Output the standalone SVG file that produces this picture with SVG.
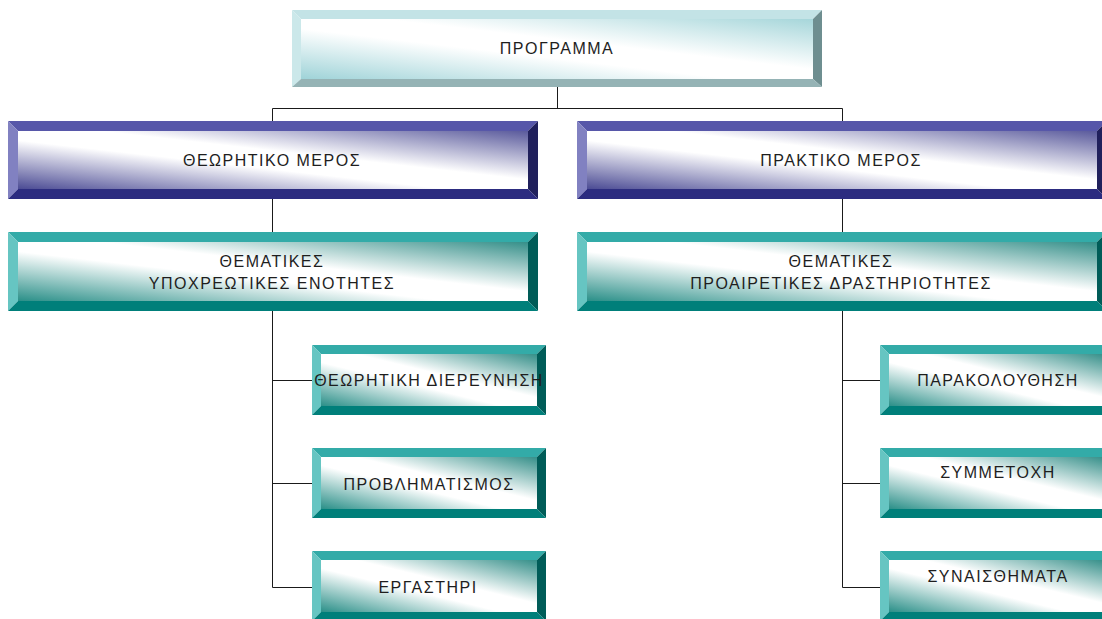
<svg xmlns="http://www.w3.org/2000/svg" width="1102" height="619" viewBox="0 0 1102 619">
<defs>
<linearGradient id="gTop" x1="0" y1="1" x2="1" y2="0">
<stop offset="0" stop-color="#9fd3d8"/><stop offset="0.42" stop-color="#ffffff"/><stop offset="0.58" stop-color="#ffffff"/><stop offset="1" stop-color="#a6d6da"/>
</linearGradient>
<linearGradient id="gPur" x1="0" y1="1" x2="1" y2="0">
<stop offset="0" stop-color="#4b4b94"/><stop offset="0.42" stop-color="#ffffff"/><stop offset="0.58" stop-color="#ffffff"/><stop offset="1" stop-color="#5a5a9c"/>
</linearGradient>
<linearGradient id="gTeal" x1="0" y1="1" x2="1" y2="0">
<stop offset="0" stop-color="#2a8f88"/><stop offset="0.42" stop-color="#ffffff"/><stop offset="0.58" stop-color="#ffffff"/><stop offset="1" stop-color="#358f89"/>
</linearGradient>
</defs>
<style>
.lbl{font-family:"Liberation Sans",Arial,sans-serif;font-size:16px;letter-spacing:1.5px;fill:#1e1e1e;text-anchor:middle}
.con{stroke:#1a1a1a;stroke-width:1;fill:none}
.top .t{fill:#c3e3e6}.top .l{fill:#cbe8ea}.top .r{fill:#6e8e90}.top .b{fill:#95b3b5}.top .i{fill:url(#gTop)}
.pur .t{fill:#5757a9}.pur .l{fill:#8181c1}.pur .r{fill:#20205c}.pur .b{fill:#2c2c80}.pur .i{fill:url(#gPur)}
.teal .t{fill:#33aba8}.teal .l{fill:#66c5c2}.teal .r{fill:#005c58}.teal .b{fill:#007f7a}.teal .i{fill:url(#gTeal)}
</style>
<g id="connectors" class="con">
<path d="M557.5 87V108.5M272.5 108.5H842.5M272.5 108.5V121M842.5 108.5V121"/>
<path d="M272.5 199V232M842.5 199V232"/>
<path d="M272.5 311V587.5M272.5 380.5H312M272.5 483.5H312M272.5 587.5H312"/>
<path d="M842.5 311V587.5M842.5 380.5H880M842.5 483.5H880M842.5 587.5H880"/>
</g>
<g id="programma" class="top">
<path class="t" d="M292 10H822L813 19H301Z"/>
<path class="l" d="M292 10L301 19V79L292 87Z"/>
<path class="r" d="M822 10V87L813 79V19Z"/>
<path class="b" d="M292 87L301 79H813L822 87Z"/>
<rect class="i" x="301" y="19" width="512" height="60"/>
<text class="lbl" x="557" y="54">ΠΡΟΓΡΑΜΜΑ</text>
</g>
<g id="theoretiko" class="pur">
<path class="t" d="M8 121H538L528 131H18Z"/>
<path class="l" d="M8 121L18 131V189L8 199Z"/>
<path class="r" d="M538 121V199L528 189V131Z"/>
<path class="b" d="M8 199L18 189H528L538 199Z"/>
<rect class="i" x="18" y="131" width="510" height="58"/>
<text class="lbl" x="272" y="166">ΘΕΩΡΗΤΙΚΟ ΜΕΡΟΣ</text>
</g>
<g id="praktiko" class="pur">
<path class="t" d="M577 121H1107L1097 131H587Z"/>
<path class="l" d="M577 121L587 131V189L577 199Z"/>
<path class="r" d="M1107 121V199L1097 189V131Z"/>
<path class="b" d="M577 199L587 189H1097L1107 199Z"/>
<rect class="i" x="587" y="131" width="510" height="58"/>
<text class="lbl" x="841" y="166">ΠΡΑΚΤΙΚΟ ΜΕΡΟΣ</text>
</g>
<g id="ypoxreotikes" class="teal">
<path class="t" d="M8 232H538L528 242H18Z"/>
<path class="l" d="M8 232L18 242V301L8 311Z"/>
<path class="r" d="M538 232V311L528 301V242Z"/>
<path class="b" d="M8 311L18 301H528L538 311Z"/>
<rect class="i" x="18" y="242" width="510" height="59"/>
<text class="lbl" x="272" y="267">ΘΕΜΑΤΙΚΕΣ</text>
<text class="lbl" x="272" y="289">ΥΠΟΧΡΕΩΤΙΚΕΣ ΕΝΟΤΗΤΕΣ</text>
</g>
<g id="proairetikes" class="teal">
<path class="t" d="M577 232H1107L1097 242H587Z"/>
<path class="l" d="M577 232L587 242V301L577 311Z"/>
<path class="r" d="M1107 232V311L1097 301V242Z"/>
<path class="b" d="M577 311L587 301H1097L1107 311Z"/>
<rect class="i" x="587" y="242" width="510" height="59"/>
<text class="lbl" x="841" y="267">ΘΕΜΑΤΙΚΕΣ</text>
<text class="lbl" x="841" y="289">ΠΡΟΑΙΡΕΤΙΚΕΣ ΔΡΑΣΤΗΡΙΟΤΗΤΕΣ</text>
</g>
<g id="diereynisi" class="teal">
<path class="t" d="M312 345H546L537 354H321Z"/>
<path class="l" d="M312 345L321 354V406L312 415Z"/>
<path class="r" d="M546 345V415L537 406V354Z"/>
<path class="b" d="M312 415L321 406H537L546 415Z"/>
<rect class="i" x="321" y="354" width="216" height="52"/>
<text class="lbl" x="429" y="386">ΘΕΩΡΗΤΙΚΗ ΔΙΕΡΕΥΝΗΣΗ</text>
</g>
<g id="provlimatismos" class="teal">
<path class="t" d="M312 448H546L537 457H321Z"/>
<path class="l" d="M312 448L321 457V509L312 518Z"/>
<path class="r" d="M546 448V518L537 509V457Z"/>
<path class="b" d="M312 518L321 509H537L546 518Z"/>
<rect class="i" x="321" y="457" width="216" height="52"/>
<text class="lbl" x="429" y="490">ΠΡΟΒΛΗΜΑΤΙΣΜΟΣ</text>
</g>
<g id="ergastiri" class="teal">
<path class="t" d="M312 551H546L537 560H321Z"/>
<path class="l" d="M312 551L321 560V612L312 621Z"/>
<path class="r" d="M546 551V621L537 612V560Z"/>
<path class="b" d="M312 621L321 612H537L546 621Z"/>
<rect class="i" x="321" y="560" width="216" height="52"/>
<text class="lbl" x="428" y="593">ΕΡΓΑΣΤΗΡΙ</text>
</g>
<g id="parakolouthisi" class="teal">
<path class="t" d="M880 345H1114L1105 354H889Z"/>
<path class="l" d="M880 345L889 354V406L880 415Z"/>
<path class="r" d="M1114 345V415L1105 406V354Z"/>
<path class="b" d="M880 415L889 406H1105L1114 415Z"/>
<rect class="i" x="889" y="354" width="216" height="52"/>
<text class="lbl" x="998" y="386">ΠΑΡΑΚΟΛΟΥΘΗΣΗ</text>
</g>
<g id="symmetoxi" class="teal">
<path class="t" d="M880 448H1114L1105 457H889Z"/>
<path class="l" d="M880 448L889 457V509L880 518Z"/>
<path class="r" d="M1114 448V518L1105 509V457Z"/>
<path class="b" d="M880 518L889 509H1105L1114 518Z"/>
<rect class="i" x="889" y="457" width="216" height="52"/>
<text class="lbl" x="998" y="478">ΣΥΜΜΕΤΟΧΗ</text>
</g>
<g id="synaisthimata" class="teal">
<path class="t" d="M880 551H1114L1105 560H889Z"/>
<path class="l" d="M880 551L889 560V612L880 621Z"/>
<path class="r" d="M1114 551V621L1105 612V560Z"/>
<path class="b" d="M880 621L889 612H1105L1114 621Z"/>
<rect class="i" x="889" y="560" width="216" height="52"/>
<text class="lbl" x="998" y="582">ΣΥΝΑΙΣΘΗΜΑΤΑ</text>
</g>
</svg>
